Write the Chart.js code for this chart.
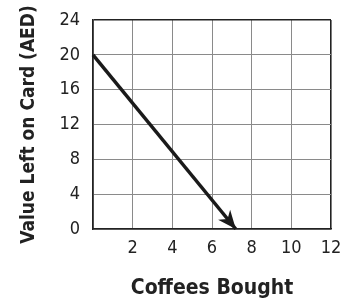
<!DOCTYPE html>
<html>
<head>
<meta charset="utf-8">
<script src="https://cdn.jsdelivr.net/npm/chart.js@4/dist/chart.umd.min.js"></script>
<style>
html,body{margin:0;padding:0;background:#fff;}
#wrap{width:340px;height:301px;}
</style>
</head>
<body>
<div id="wrap"><canvas id="c" width="340" height="301"></canvas></div>
<script>
const coffees = [0, 7.2];
const valueLeft = [20, 0];
const xTicks = [0, 2, 4, 6, 8, 10, 12];
const yTicks = [0, 4, 8, 12, 16, 20, 24];
const xTitle = 'Coffees Bought';
const yTitle = 'Value Left on Card (AED)';

const FAM = "'DejaVu Sans Condensed', 'Liberation Sans Narrow', 'Open Sans', sans-serif";

const arrowPlugin = {
  id: 'arrowHead',
  afterDatasetsDraw(chart) {
    const meta = chart.getDatasetMeta(0);
    const pts = meta.data;
    if (pts.length < 2) return;
    const a = pts[pts.length - 2], b = pts[pts.length - 1];
    const ang = Math.atan2(b.y - a.y, b.x - a.x);
    const ctx = chart.ctx;
    const L = 20, W = 0.4, back = 13;
    ctx.save();
    ctx.fillStyle = '#1a1a1a';
    ctx.beginPath();
    ctx.moveTo(b.x, b.y);
    ctx.lineTo(b.x - L * Math.cos(ang - W), b.y - L * Math.sin(ang - W));
    ctx.lineTo(b.x - back * Math.cos(ang), b.y - back * Math.sin(ang));
    ctx.lineTo(b.x - L * Math.cos(ang + W), b.y - L * Math.sin(ang + W));
    ctx.closePath();
    ctx.fill();
    ctx.restore();
  }
};

new Chart(document.getElementById('c'), {
  type: 'scatter',
  data: {
    datasets: [{
      data: coffees.map((x, i) => ({x: x, y: valueLeft[i]})),
      showLine: true,
      borderColor: '#1a1a1a',
      borderWidth: 3.5,
      pointRadius: 0,
      borderCapStyle: 'butt',
      clip: false
    }]
  },
  options: {
    responsive: false,
    animation: false,
    layout: {padding: {top: 20, right: 0, left: 0, bottom: 0}},
    plugins: {legend: {display: false}, tooltip: {enabled: false}},
    scales: {
      x: {
        type: 'linear', min: 0, max: 12,
        afterBuildTicks: s => { s.ticks = xTicks.map(v => ({value: v})); },
        afterFit: s => { s.height = 72; s.paddingRight = 9; },
        ticks: {
          padding: 9, color: '#222',
          font: {family: FAM, size: 18},
          callback: v => v === 0 ? '' : String(v)
        },
        grid: {
          drawTicks: false,
          color: c => (c.tick && c.tick.value === 12) ? '#222' : '#8a8a8a',
          lineWidth: c => (c.tick && c.tick.value === 12) ? 1.6 : 1
        },
        border: {display: true, color: '#222', width: 1.6},
        title: {
          display: true, text: xTitle, color: '#222',
          font: {family: FAM, size: 21, weight: 'bold'},
          padding: {top: 3, bottom: 0}
        }
      },
      y: {
        type: 'linear', min: 0, max: 24,
        afterBuildTicks: s => { s.ticks = yTicks.map(v => ({value: v})); },
        afterFit: s => { s.width = 93; s.paddingTop = 2; },
        ticks: {
          padding: 13, color: '#222',
          font: {family: FAM, size: 18}
        },
        grid: {
          drawTicks: false,
          color: c => (c.tick && c.tick.value === 24) ? '#222' : '#8a8a8a',
          lineWidth: c => (c.tick && c.tick.value === 24) ? 1.6 : 1
        },
        border: {display: true, color: '#222', width: 1.6},
        title: {
          display: true, text: yTitle, color: '#222',
          font: {family: FAM, size: 19, weight: 'bold'},
          padding: {top: 18, bottom: 0}
        }
      }
    }
  },
  plugins: [arrowPlugin]
});
</script>
</body>
</html>
